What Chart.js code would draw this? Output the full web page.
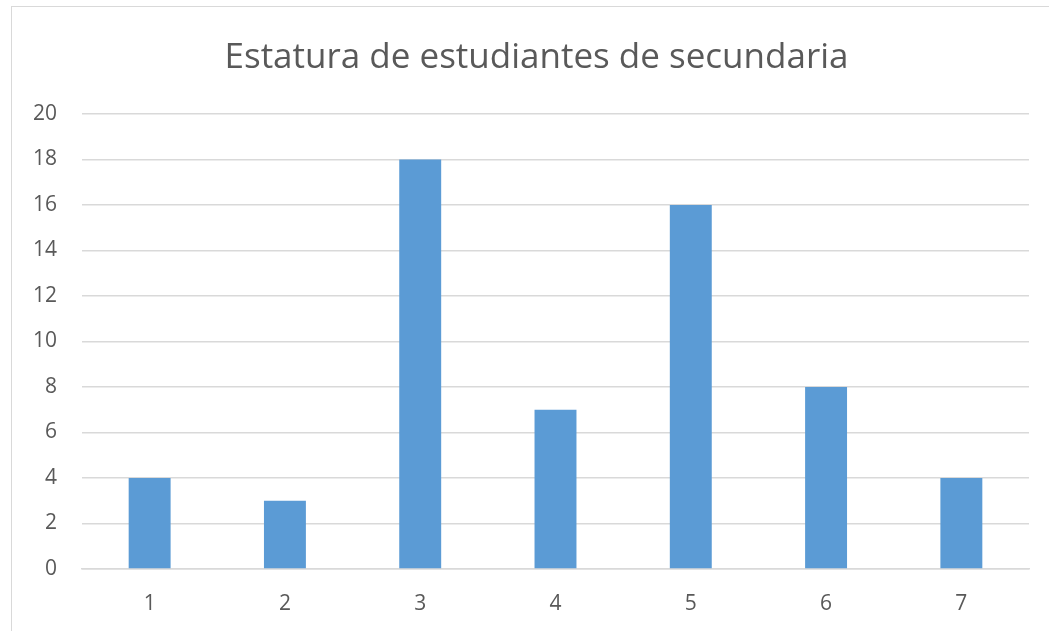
<!DOCTYPE html>
<html>
<head>
<meta charset="utf-8">
<script src="https://cdn.jsdelivr.net/npm/chart.js@4"></script>
<style>
  html, body { margin: 0; padding: 0; background: #ffffff; overflow: hidden; }
  #frame { position: absolute; left: 11px; top: 6px; width: 1100px; height: 700px; border: 1.5px solid #d9d9d9; box-sizing: border-box; }
  #wrap { position: absolute; left: 0; top: 0; width: 1049px; height: 631px; }
</style>
</head>
<body>
<div id="frame"></div>
<div id="wrap"><canvas id="c" width="1049" height="631"></canvas></div>
<script>
const titleText = "Estatura de estudiantes de secundaria";
const categories = ["1", "2", "3", "4", "5", "6", "7"];
const values = [4, 3, 18, 7, 16, 8, 4];
const yTicks = [0, 2, 4, 6, 8, 10, 12, 14, 16, 18, 20];

const fontFamily = "'Open Sans', 'Noto Sans', sans-serif";
const textColor = "#595959";
const gridColor = "#d9d9d9";

const titleShift = {
  id: "titleShift",
  afterLayout(chart) {
    const t = chart.titleBlock;
    if (t) { t.left += 22; t.right += 22; }
  }
};

new Chart(document.getElementById("c"), {
  type: "bar",
  data: {
    labels: categories,
    datasets: [{
      data: values,
      backgroundColor: "#5b9bd5",
      borderWidth: 0,
      barPercentage: 1,
      categoryPercentage: 0.31
    }]
  },
  plugins: [titleShift],
  options: {
    responsive: false,
    animation: false,
    devicePixelRatio: 1,
    layout: { padding: { left: 0, right: 20, top: 0, bottom: 0 } },
    plugins: {
      legend: { display: false },
      tooltip: { enabled: false },
      title: {
        display: true,
        text: titleText,
        color: textColor,
        font: { family: fontFamily, size: 35, weight: "normal", lineHeight: 1.2 },
        padding: { top: 37, bottom: 35 }
      }
    },
    scales: {
      x: {
        grid: { display: false, drawTicks: false },
        border: { display: true, color: gridColor, width: 1.5 },
        ticks: { color: textColor, font: { family: fontFamily, size: 21 }, padding: 22 },
        afterFit: (s) => { s.height = 62; }
      },
      y: {
        min: 0,
        max: 20,
        afterBuildTicks: (s) => { s.ticks = yTicks.map(v => ({ value: v })); },
        grid: { color: gridColor, lineWidth: 1.5, drawTicks: false },
        border: { display: false },
        ticks: { color: textColor, font: { family: fontFamily, size: 21 }, padding: 25 },
        afterFit: (s) => { s.width = 82; }
      }
    }
  }
});
</script>
</body>
</html>
